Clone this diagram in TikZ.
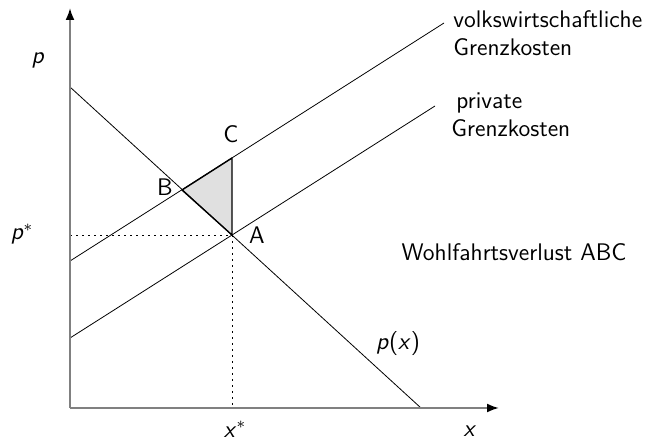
\documentclass[tikz,border=0pt]{standalone}
\usetikzlibrary{arrows.meta}
\begin{document}
\begin{tikzpicture}[
  x=0.5pt, y=-0.5pt,
  lbl/.style={font=\sffamily\large, inner sep=1pt},
  axis/.style={draw=black!50, line width=1pt, -{Latex[black, length=6pt, width=4.5pt]}},
  curve/.style={thin},
  guide/.style={thin, dash pattern=on 0.8pt off 2.2pt},
  loss/.style={fill=black!12, draw=black, line width=0.7pt, line join=round}
]
\useasboundingbox (0,0) rectangle (670,443);
\coordinate (O) at (70,408);
\coordinate (xend) at (499,408);
\coordinate (yend) at (70,8);
\coordinate (d1) at (70,87);
\coordinate (d2) at (421,408);
\coordinate (s1) at (70,261);
\coordinate (s2) at (444,23);
\coordinate (m1) at (70,338);
\coordinate (m2) at (435,106);
\coordinate (A) at (232,235);
\coordinate (B) at (182,190);
\coordinate (C) at (232,158);
\coordinate (pA) at (70,235);
\coordinate (xA) at (232,408);
\draw[loss] (B) -- (C) -- (A) -- cycle;
\draw[curve] (d1) -- (d2);
\draw[curve] (s1) -- (s2);
\draw[curve] (m1) -- (m2);
\draw[guide] (pA) -- (A);
\draw[guide] (A) -- (xA);
\draw[axis] (O) -- (xend);
\draw[axis] (O) -- (yend);
\node[lbl] (lp) at (38,60) {\textit{p}};
\node[lbl] (lpstar) at (22,234) {\textit{p}$^*$};
\node[lbl] (lxstar) at (235,429) {\textit{x}$^*$};
\node[lbl] (lx) at (470,431) {\textit{x}};
\node[lbl] (lA) at (257,235) {A};
\node[lbl] (lB) at (165,187) {B};
\node[lbl] (lC) at (231,134) {C};
\node[lbl] (lpx) at (398,344) {\textit{p}(\textit{x})};
\node[lbl, anchor=west, align=left] (lsoc) at (451,33)
  {volkswirtschaftliche\\Grenzkosten};
\node[lbl, anchor=west, align=left] (lpriv) at (449,115)
  {\hspace*{2.5pt}private\\Grenzkosten};
\node[lbl] (lloss) at (514,252) {Wohlfahrtsverlust ABC};
\end{tikzpicture}
\end{document}
